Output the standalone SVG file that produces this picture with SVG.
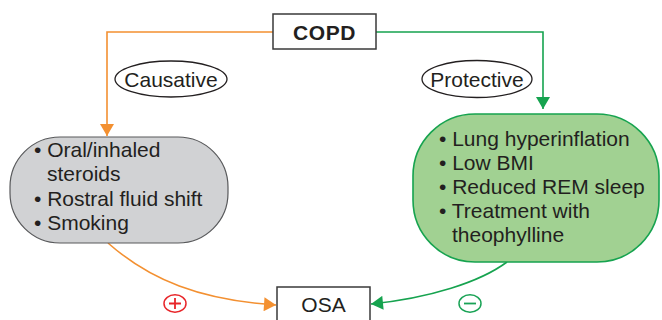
<svg xmlns="http://www.w3.org/2000/svg" width="662" height="320" viewBox="0 0 662 320">
<defs>
<marker id="ao" markerUnits="userSpaceOnUse" markerWidth="14" markerHeight="14" viewBox="0 0 12 14" refX="12" refY="7" orient="auto"><path d="M0,0 L12,7 L0,14 Z" fill="#f39031"/></marker>
<marker id="ag" markerUnits="userSpaceOnUse" markerWidth="14" markerHeight="14" viewBox="0 0 12 14" refX="12" refY="7" orient="auto"><path d="M0,0 L12,7 L0,14 Z" fill="#16a34f"/></marker>
</defs>
<style>
text{font-family:"Liberation Sans",Arial,sans-serif;fill:#231f20;}
.t{font-size:21px;}
.box{fill:#fff;stroke:#3a3a3a;stroke-width:1.5;}
.lbl{fill:#fff;stroke:#231f20;stroke-width:1.3;}
.o{fill:none;stroke:#f39031;stroke-width:1.6;}
.g{fill:none;stroke:#16a34f;stroke-width:1.6;}
</style>
<g id="connectors">
<path class="o" d="M273,32 H107 V136" marker-end="url(#ao)"/>
<path class="g" d="M376,32 H543 V109" marker-end="url(#ag)"/>
<path class="o" d="M108,243 C150,280 200,300 276,305" marker-end="url(#ao)"/>
<path class="g" d="M507,262 C480,282 430,298 371,304" marker-end="url(#ag)"/>
</g>
<g id="copd">
<rect class="box" x="273" y="14" width="103" height="35"/>
<text x="324.5" y="40" text-anchor="middle" style="font-size:21px;font-weight:bold;letter-spacing:0.6px">COPD</text>
</g>
<g id="causative">
<ellipse class="lbl" cx="171" cy="79" rx="56" ry="18"/>
<text class="t" x="171" y="86.5" text-anchor="middle">Causative</text>
</g>
<g id="protective">
<ellipse class="lbl" cx="477" cy="79" rx="55" ry="18.5"/>
<text class="t" x="477" y="86.5" text-anchor="middle">Protective</text>
</g>
<g id="causes">
<rect x="10" y="137" width="218" height="106" rx="50" ry="50" fill="#d1d2d4" stroke="#58595b" stroke-width="1.2"/>
<text class="t" x="34" y="157">• Oral/inhaled</text>
<text class="t" x="47" y="181">steroids</text>
<text class="t" x="34" y="206">• Rostral fluid shift</text>
<text class="t" x="34" y="230">• Smoking</text>
</g>
<g id="protects">
<rect x="413" y="114" width="246" height="148" rx="62" ry="62" fill="#a1d192" stroke="#16a34f" stroke-width="1.6"/>
<text class="t" x="439" y="146">• Lung hyperinflation</text>
<text class="t" x="439" y="170">• Low BMI</text>
<text class="t" x="439" y="194">• Reduced REM sleep</text>
<text class="t" x="439" y="218">• Treatment with</text>
<text class="t" x="452" y="242">theophylline</text>
</g>
<g id="osa">
<rect class="box" x="277" y="287" width="93" height="40"/>
<text class="t" x="323.5" y="312" text-anchor="middle">OSA</text>
</g>
<g id="plus">
<ellipse cx="175" cy="303.5" rx="11" ry="8.7" fill="none" stroke="#e8262a" stroke-width="1.5"/>
<path d="M169,303.5 H181 M175,298 V309" stroke="#e8262a" stroke-width="1.8"/>
</g>
<g id="minus">
<ellipse cx="470" cy="303.5" rx="11" ry="8.7" fill="none" stroke="#1aa356" stroke-width="1.5"/>
<path d="M464,303.5 H476" stroke="#1aa356" stroke-width="1.8"/>
</g>
</svg>
